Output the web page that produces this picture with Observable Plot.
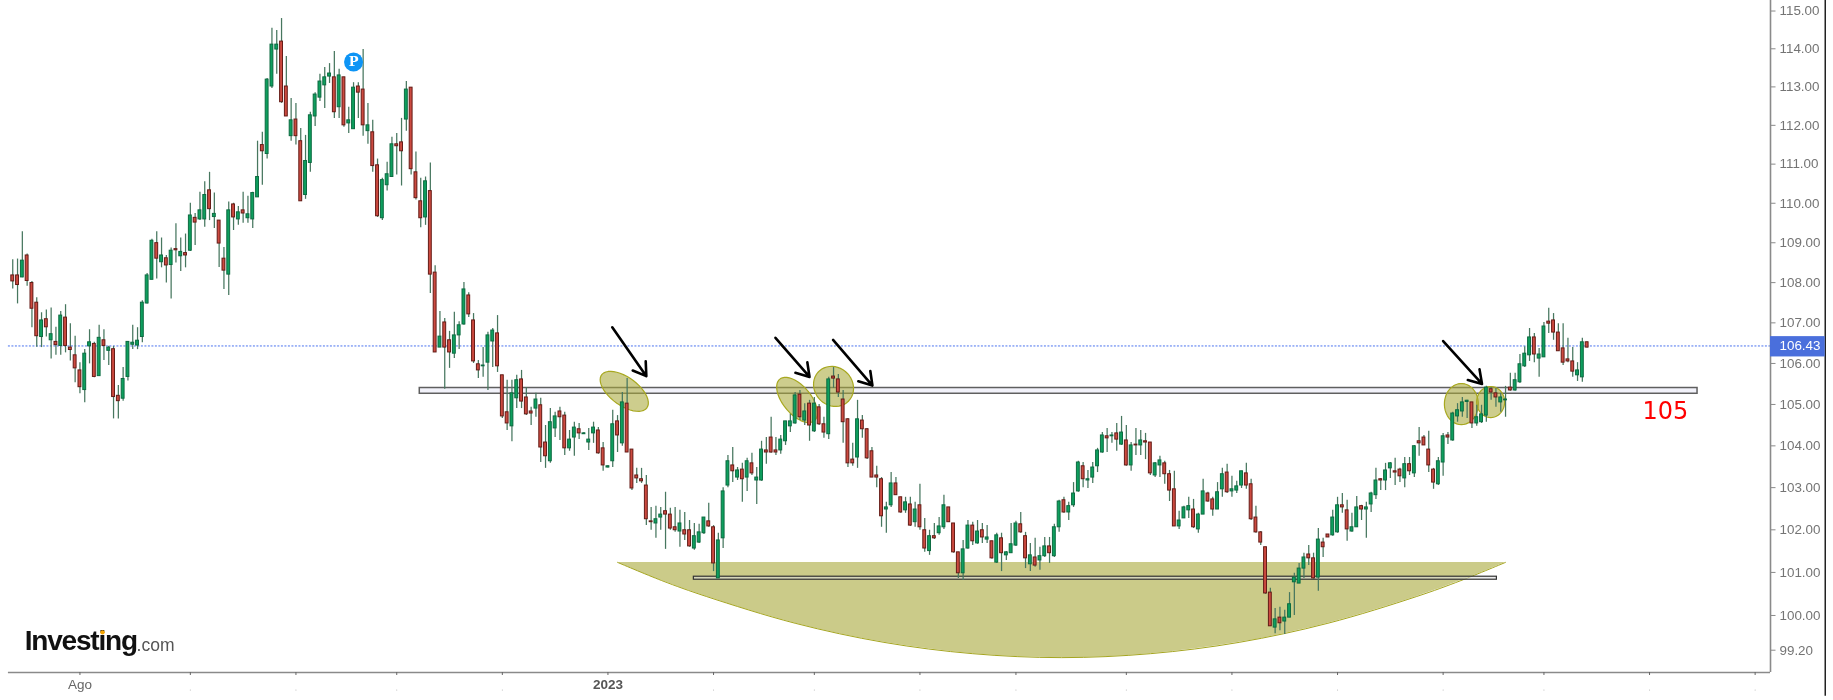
<!DOCTYPE html>
<html>
<head>
<meta charset="utf-8">
<script src="https://cdn.jsdelivr.net/npm/d3@7"></script>
<script src="https://cdn.jsdelivr.net/npm/@observablehq/plot@0.6"></script>
<style>
html,body{margin:0;padding:0;background:#fff;overflow:hidden}
.logoMain text{letter-spacing:-1.2px}
</style>
</head>
<body>
<div id="chart"></div>
<script>
const highs = [
108.57,108.59,109.28,108.72,108.03,107.62,107.25,107.32,107.37,106.89,
107.28,107.45,106.98,106.67,106.02,106.34,106.83,106.52,106.94,106.83,
106.42,106.42,105.46,105.90,106.54,106.94,106.88,107.55,108.23,109.09,
109.28,109.12,108.68,108.87,109.48,109.12,109.22,110.00,109.74,110.28,
110.55,110.79,110.26,109.56,108.88,110.03,110.00,109.92,110.28,110.18,
110.28,111.59,111.82,113.22,114.54,114.48,114.80,113.80,112.70,112.57,
111.92,111.74,112.34,112.85,113.33,113.51,113.61,113.93,113.46,113.25,
112.47,113.11,113.11,113.98,112.57,112.13,111.13,110.64,111.05,111.69,
111.79,112.18,113.14,112.98,111.31,110.64,110.67,111.03,108.42,107.28,
107.11,106.79,107.26,107.03,108.00,107.75,107.23,106.07,106.39,106.77,
106.86,107.18,105.71,105.59,105.59,105.71,105.83,105.41,104.93,105.27,
105.15,104.49,104.90,104.81,104.93,104.81,104.37,104.57,104.54,104.32,
104.42,104.57,104.44,104.08,103.52,104.86,104.73,105.29,105.63,103.91,
103.46,103.46,103.29,102.53,102.56,102.53,102.89,102.51,102.53,102.46,
102.41,102.22,102.15,102.13,102.29,102.63,102.10,101.92,103.00,103.77,
103.96,103.48,103.58,103.70,103.82,103.48,104.11,104.20,104.69,104.20,
104.25,104.59,104.76,105.29,105.34,105.02,105.10,105.17,105.00,104.69,
105.66,105.90,105.73,105.34,104.66,104.06,105.10,104.73,104.42,103.96,
103.51,103.24,102.65,103.36,103.24,102.77,102.77,102.77,102.65,103.08,
102.27,101.99,102.15,102.29,102.82,102.53,102.15,101.47,101.75,102.22,
102.18,102.22,102.15,102.10,101.73,101.92,101.92,101.49,102.15,102.20,
102.41,101.94,101.68,101.80,101.59,101.82,101.82,102.13,102.70,102.77,
102.65,103.12,103.63,103.60,103.41,103.60,103.94,104.32,104.42,104.32,
104.54,104.71,104.49,104.08,104.42,104.37,104.30,104.08,103.60,103.75,
103.63,103.41,103.39,102.44,102.56,102.77,102.72,102.39,103.20,102.89,
102.77,103.12,103.46,103.56,103.27,103.15,103.39,103.58,103.20,102.56,
101.96,101.59,100.63,100.16,100.19,100.12,100.53,100.98,101.21,101.45,
101.63,101.45,102.03,101.80,101.89,102.46,102.77,102.86,102.70,102.39,
102.79,102.58,102.65,102.89,103.46,103.22,103.58,103.60,103.70,103.46,
103.72,103.72,104.01,104.44,104.25,104.35,103.46,103.72,104.30,104.32,
104.81,105.02,105.17,105.10,105.05,104.98,104.98,105.44,105.41,105.39,
105.27,105.44,105.76,105.76,106.22,106.41,106.86,106.74,106.37,107.01,
107.36,107.23,106.98,106.98,106.62,106.39,106.02,106.62,106.53];
const bodyTops = [
108.18,108.18,108.55,108.68,107.99,107.50,107.06,107.09,106.72,106.53,
107.18,107.13,106.39,106.20,105.83,106.24,106.52,106.48,106.63,106.57,
106.39,106.35,105.21,105.62,106.53,106.51,106.56,107.50,108.18,109.05,
108.99,108.68,108.61,108.80,108.84,108.77,108.74,109.69,109.63,109.82,
110.21,110.33,109.73,109.56,108.60,109.82,109.97,109.77,109.82,109.72,
110.26,110.67,111.49,113.19,114.11,114.11,114.19,113.01,112.13,112.15,
111.59,111.08,112.26,112.80,113.14,113.25,113.35,113.25,113.30,113.25,
112.13,112.98,113.01,112.93,112.00,111.82,110.97,110.59,110.74,111.51,
111.51,111.56,112.93,112.98,110.79,110.05,110.56,110.31,108.25,106.66,
107.01,106.57,106.69,106.94,107.83,107.68,107.06,105.98,105.95,106.69,
106.81,106.74,105.71,104.81,105.27,105.59,105.61,105.17,104.83,105.12,
104.98,104.08,104.57,104.71,104.83,104.73,104.15,104.44,104.40,104.30,
104.15,104.44,104.37,103.94,103.51,104.52,104.59,105.05,105.02,103.91,
103.29,103.20,103.05,102.20,102.25,102.36,102.44,102.36,102.06,102.15,
101.99,101.99,101.85,101.94,102.29,102.20,102.06,101.75,102.91,103.63,
103.53,103.41,103.43,103.63,103.58,103.24,103.91,103.89,104.20,103.89,
104.15,104.59,104.59,105.22,105.24,104.83,105.02,105.02,104.93,104.52,
105.61,105.68,105.61,105.12,104.64,103.67,104.64,104.61,104.40,103.87,
103.29,103.20,102.53,103.10,103.10,102.77,102.65,102.60,102.48,102.58,
101.99,101.85,101.85,102.08,102.58,102.53,102.15,101.47,101.54,102.10,
102.10,101.96,101.99,101.82,101.73,101.87,101.80,101.47,101.66,102.15,
102.13,101.85,101.40,101.35,101.38,101.61,101.61,102.06,102.67,102.70,
102.56,102.86,103.60,103.51,103.20,103.48,103.89,104.25,104.23,104.25,
104.30,104.32,104.13,104.01,104.03,104.13,104.11,104.08,103.58,103.65,
103.58,103.32,102.96,102.22,102.53,102.56,102.48,102.36,102.91,102.86,
102.72,102.89,103.32,103.36,102.96,103.03,103.39,103.34,103.08,102.29,
101.94,101.59,100.53,99.91,99.95,99.95,100.26,100.88,101.09,101.35,
101.42,101.33,101.77,101.70,101.89,102.29,102.58,102.58,102.46,102.06,
102.53,102.56,102.53,102.86,103.17,103.20,103.41,103.58,103.39,103.43,
103.56,103.56,103.99,104.11,104.20,103.91,103.43,103.63,104.23,104.25,
104.78,104.86,105.05,105.09,105.05,104.69,104.76,105.41,105.37,105.27,
105.17,105.12,105.41,105.59,105.98,106.24,106.64,106.64,106.22,106.91,
107.03,107.06,106.76,106.37,106.10,106.05,105.83,106.52,106.52];
const bodyBottoms = [
108.03,107.94,108.13,108.04,107.35,106.67,106.65,106.89,106.57,106.45,
106.43,106.43,106.33,105.88,105.42,105.35,106.42,105.67,105.69,106.43,
106.31,105.18,105.08,105.14,105.67,106.46,106.44,106.65,107.48,108.07,
108.60,108.51,108.43,108.44,108.81,108.66,108.68,108.80,109.51,109.59,
109.59,109.85,109.65,108.98,108.30,108.20,109.64,109.59,109.74,109.62,
109.59,110.15,111.33,111.26,113.01,113.98,112.60,112.23,111.72,111.72,
110.05,110.21,111.03,112.23,112.72,113.04,113.27,112.34,112.47,112.00,
112.05,111.90,112.85,112.00,111.85,110.95,109.67,109.62,110.46,110.67,
111.46,111.33,112.15,110.87,110.13,109.62,109.64,108.20,106.27,106.39,
106.39,106.27,106.24,106.69,106.96,107.21,106.05,105.83,105.93,106.02,
106.54,105.93,104.71,104.54,104.47,105.15,105.07,104.76,104.78,104.90,
103.96,103.75,103.63,104.42,104.69,103.94,103.94,104.20,104.30,104.28,
104.08,104.30,103.82,103.53,103.48,103.63,104.25,104.06,103.84,102.98,
103.22,103.15,102.25,102.18,102.15,102.29,102.36,102.03,101.99,101.96,
101.89,101.61,101.56,101.70,101.92,102.08,101.21,100.86,101.80,103.05,
103.39,103.24,103.20,103.24,103.34,103.17,103.17,103.84,103.84,103.84,
103.89,104.11,104.47,104.54,104.69,104.61,104.49,104.35,104.52,104.32,
104.28,105.63,105.29,104.57,103.58,103.58,103.72,104.40,103.70,103.24,
103.24,102.32,102.48,102.58,102.82,102.41,102.46,102.10,102.18,102.06,
101.56,101.50,101.80,101.92,102.06,102.18,101.47,100.98,100.98,101.56,
101.73,101.68,101.82,101.77,101.33,101.23,101.45,101.40,101.45,101.63,
101.94,101.33,101.19,101.16,101.28,101.38,101.45,101.38,102.06,102.41,
102.41,102.58,102.91,103.20,103.17,103.24,103.51,103.84,104.18,104.23,
104.15,104.03,103.53,103.53,104.01,104.01,104.08,103.34,103.29,103.53,
103.32,102.93,102.08,102.08,102.27,102.46,102.06,102.01,102.36,102.67,
102.48,102.48,102.96,102.89,102.91,102.93,103.05,103.05,102.25,101.94,
101.70,100.51,99.75,99.72,99.82,99.86,99.95,100.77,100.74,101.09,
101.33,100.86,100.88,101.59,101.82,101.87,101.94,102.53,102.01,101.96,
102.06,102.48,102.48,102.60,102.82,103.17,103.17,103.46,103.36,103.27,
103.22,103.39,103.34,104.06,104.01,103.53,103.12,103.08,103.60,104.20,
104.13,104.71,104.83,105.06,104.54,104.54,104.57,104.73,105.29,105.17,
105.05,105.10,105.34,105.34,105.54,105.93,106.20,106.22,106.12,106.15,
106.98,106.76,106.30,106.02,106.05,105.80,105.71,105.66,106.39];
const lows = [
107.84,107.47,108.12,107.91,106.88,106.40,106.39,106.65,106.11,106.20,
106.20,106.26,106.06,105.53,105.26,105.04,105.99,105.65,105.69,106.07,
105.95,104.65,104.65,105.08,105.57,106.34,106.34,106.51,107.47,108.07,
108.09,108.37,107.99,107.59,108.49,108.28,108.37,108.78,108.93,109.56,
109.39,109.56,109.36,108.38,107.83,107.68,109.31,109.44,109.49,109.49,
109.36,110.15,110.46,111.13,112.96,113.33,112.57,112.23,111.59,111.49,
110.05,110.10,110.79,111.97,112.62,112.44,113.09,112.18,112.18,111.95,
111.79,111.90,112.18,111.72,111.51,110.79,109.64,109.56,110.31,110.67,
110.72,110.44,111.85,110.72,110.08,109.38,109.44,107.73,106.27,106.39,
105.37,105.88,106.12,106.34,106.94,107.13,106.00,105.63,105.66,105.34,
105.90,105.78,104.66,104.37,104.10,104.90,104.90,104.73,104.49,104.69,
103.60,103.46,103.58,104.20,104.13,103.77,103.87,103.75,104.15,104.28,
103.89,104.06,103.80,103.39,103.47,103.48,103.84,103.99,103.84,102.93,
103.10,103.10,102.10,101.99,101.80,101.99,101.54,101.99,101.94,101.59,
101.75,101.59,101.52,101.68,101.89,102.06,101.02,100.86,101.56,103.00,
103.12,103.17,102.65,102.91,103.29,102.60,103.15,103.56,103.82,103.77,
103.80,104.01,104.32,104.52,104.61,104.49,104.11,104.32,104.49,104.18,
104.15,105.39,105.17,104.06,103.48,103.51,103.46,104.18,103.67,103.24,
103.00,102.06,101.92,102.53,102.82,102.39,102.39,102.08,102.06,101.99,
101.47,101.40,101.77,101.87,102.01,102.18,101.45,100.86,100.81,101.54,
101.63,101.66,101.68,101.68,101.31,101.21,101.02,101.28,101.45,101.61,
101.92,101.09,101.02,101.12,101.05,101.35,101.21,101.35,101.94,102.39,
102.22,102.53,102.89,103.00,102.98,103.10,103.36,103.82,103.84,104.06,
103.87,104.01,103.51,103.39,103.77,103.77,103.67,103.29,103.24,103.24,
103.08,102.67,102.08,102.01,102.27,102.27,102.03,101.92,102.36,102.65,
102.32,102.48,102.77,102.86,102.77,102.86,102.98,102.96,102.22,101.92,
101.63,100.49,99.75,99.58,99.65,99.56,99.95,100.00,100.74,100.86,
101.16,100.84,100.56,101.35,101.82,101.85,101.92,102.39,101.73,101.94,
102.06,102.22,101.80,102.41,102.72,102.93,102.93,103.22,103.05,103.12,
103.00,103.29,103.24,103.75,104.01,103.36,102.96,103.05,103.27,104.03,
104.11,104.57,104.69,104.66,104.42,104.47,104.54,104.57,105.10,104.93,
104.81,104.69,105.32,105.32,105.51,105.90,106.05,106.02,105.66,106.15,
106.74,106.57,106.30,105.95,106.02,105.66,105.56,105.54,106.38];
const directions = (
"RRGRRRGRGR"+"GRRRRGGRGR"+"GRRGGGGGGG"+"RGRGRGRGRG"+"GRGRRGRGRG"+
"GGRGGGRRGR"+"RGGGGGGRGR"+"GGRRGRRGGG"+"RRGRRRGRRG"+"RRGGGRRRGG"+
"GRRRGGRRRG"+"RRGGRRGGRG"+"GGRRGGRGRR"+"RRRRGGRRRG"+"RRGGGRRGGG"+
"RGRGRGGRRR"+"GGGGRGRGRR"+"GRRRRRGRRR"+"RRGGRRGRGR"+"RGRGGRRRGG"+
"RGRGRGRGGG"+"RRGRGGRGGR"+"GGGRGGGGRG"+"RGRGRGRRGG"+"RRRGGGRGGR"+
"RGGRGGGRRR"+"RRRGRGGGGG"+"RRGRRGGRRG"+"GRGGGRGGRR"+"GRGRRRRGGR"+
"GGGGRGGGRR"+"GGRGGGGRGG"+"RRRRRRGGR").split("");

const yTicks = [115,114,113,112,111,110,109,108,107,106,105,104,103,102,101,100,99.2];
const monthTicks = [14,37,59,80,102,124,146,167,189,209,232,254,276,298,319,341,363];
const lastPrice = 106.43;

// price zones drawn on the chart
const resistanceBand = {i1:84.8,i2:351,p1:105.26,p2:105.40};
const supportBand = {i1:141.9,i2:309.2,p1:100.83,p2:100.90};
const bowlIndex = [126,135.2,144.5,163,181.5,200,218.5,237,255.5,274,292.5,301.7,311];
const bowlPrice = [101.235,100.81,100.44,99.82,99.38,99.12,99.03,99.12,99.38,99.82,100.44,100.81,101.235];
const bowlTop = 101.235;

// highlight ellipses
const ellipseIndex = [127.4,163.4,171,301.8,307.9];
const ellipsePrice = [105.32,105.11,105.44,105.01,105.06];
const ellipseMajor = [28,27,21,20.5,15.5];
const ellipseMinor = [14,14,19,17,14];
const ellipseTilt = [36,50,45,90,90];

// arrows
const arrowFromIndex = [124.9,158.9,170.9,298.0];
const arrowFromPrice = [106.89,106.63,106.58,106.55];
const arrowToIndex = [132.0,166.0,179.1,306.1];
const arrowToPrice = [105.69,105.67,105.46,105.50];

const n = highs.length;
const candles = d3.range(n).map(i => ({
  i, high: highs[i], low: lows[i], top: bodyTops[i], bottom: bodyBottoms[i], dir: directions[i]
}));
const greens = candles.filter(d => d.dir === "G");
const reds = candles.filter(d => d.dir === "R");

const bowl = bowlIndex.map((i, k) => ({i, p: bowlPrice[k]}));
const arrows = arrowFromIndex.map((_, k) => ({x1: arrowFromIndex[k], y1: arrowFromPrice[k], x2: arrowToIndex[k], y2: arrowToPrice[k]}));
const ellipses = ellipseIndex.flatMap((cx, k) => d3.range(0, 361, 8).map(a => {
  const t = a * Math.PI / 180, th = ellipseTilt[k] * Math.PI / 180;
  const u = ellipseMajor[k] * Math.cos(t), v = ellipseMinor[k] * Math.sin(t);
  return {k, i: cx + (u * Math.cos(th) - v * Math.sin(th)) / 4.8, p: ellipsePrice[k] - (u * Math.sin(th) + v * Math.cos(th)) / 41};
}));

const xEnd = 366.2, xStart = -0.9, xBorder = 377.6, bottomPrice = 98.69, topPrice = 115.28, belowPrice = 98.15;
const halfWidth = 0.3;
const wick = "#47775f";

const chart = Plot.plot({
  width: 1833, height: 700,
  marginLeft: 0, marginRight: 63, marginTop: 0, marginBottom: 28,
  x: {type: "linear", domain: [-1.3, xEnd], range: [6, 1770], axis: null},
  y: {type: "log", domain: [bottomPrice, topPrice], range: [672, 0], axis: null},
  style: {fontFamily: "'Liberation Sans', Arial, sans-serif", background: "#fff", overflow: "visible", filter: "blur(0.3px)"},
  marks: [
    // bowl
    Plot.areaY(bowl, {x: "i", y1: bowlTop, y2: "p", fill: "#cbcb89", curve: "catmull-rom"}),
    Plot.lineY(bowl, {x: "i", y: "p", stroke: "#a5a520", strokeWidth: 1, curve: "catmull-rom"}),
    // horizontal zones
    Plot.rect([resistanceBand], {x1: "i1", x2: "i2", y1: "p1", y2: "p2", fill: "#f2f2fa", stroke: "#5f5f5f", strokeWidth: 1.5}),
    Plot.rect([supportBand], {x1: "i1", x2: "i2", y1: "p1", y2: "p2", fill: "#dfe0e2", fillOpacity: 0.55, stroke: "#333", strokeWidth: 1.2}),
    // last price line
    Plot.ruleY([lastPrice], {x1: xStart, x2: xEnd, stroke: "#4a72ee", strokeWidth: 1, strokeDasharray: "2,1.5"}),
    // highlight ellipses
    Plot.line(ellipses, {x: "i", y: "p", z: "k", fill: "rgb(168,168,58)", fillOpacity: 0.58, stroke: "#a8a820", strokeWidth: 1.2, curve: "linear"}),
    // candles
    Plot.ruleX(candles, {x: "i", y1: "low", y2: "high", stroke: wick, strokeWidth: 1.25}),
    Plot.rect(greens, {x1: d => d.i - halfWidth, x2: d => d.i + halfWidth, y1: "bottom", y2: "top", fill: "#0e9f5e", stroke: "#0c6b41", strokeWidth: 1}),
    Plot.rect(reds, {x1: d => d.i - halfWidth, x2: d => d.i + halfWidth, y1: "bottom", y2: "top", fill: "#cc4a40", stroke: "#641b16", strokeWidth: 1}),
    // arrows
    Plot.arrow(arrows, {x1: "x1", y1: "y1", x2: "x2", y2: "y2", stroke: "#000", strokeWidth: 2.6, headLength: 8.5, headAngle: 65}),
    // pivot badge
    Plot.dot(["P"], {x: 71, y: 113.65, r: 9.5, fill: "#0d94f5"}),
    Plot.text(["P"], {x: 71, y: 113.65, text: d => d, fill: "#fff", fontSize: 13, fontWeight: "bold", fontFamily: "'DejaVu Serif', serif"}),
    // annotation
    Plot.text(["105"], {x: 344.3, y: 104.84, text: d => d, fill: "#ff0000", fontSize: 24, fontFamily: "'DejaVu Sans', sans-serif"}),
    // axes
    Plot.ruleX([xEnd], {y1: bottomPrice, y2: topPrice, stroke: "#8a8a8a", strokeWidth: 1.6}),
    Plot.ruleX([xBorder], {y1: belowPrice, y2: topPrice, stroke: "#000", strokeWidth: 1.3}),
    Plot.ruleY([bottomPrice], {x1: xStart, x2: xEnd, stroke: "#8a8a8a", strokeWidth: 1.6}),
    Plot.axisY(yTicks, {anchor: "right", tickFormat: d => d.toFixed(2), tickSize: 4.5, tickPadding: 4.5, fontSize: 13.4, stroke: "#8a8a8a", fill: "#747474"}),
    Plot.axisX(monthTicks, {anchor: "bottom", tickFormat: () => "", tickSize: 3, stroke: "#666"}),
    Plot.dot(monthTicks.filter(t => t !== 14 && t !== 124), {x: d => d, y: 98.29, r: 0.5, fill: "#aaa"}),
    Plot.text(["Ago"], {x: 14, y: 98.41, text: d => d, fill: "#666", fontSize: 13.5}),
    Plot.text(["2023"], {x: 124, y: 98.41, text: d => d, fill: "#555", fontWeight: "bold", fontSize: 13.5}),
    // last price flag
    Plot.rect([lastPrice], {x1: xEnd, x2: xBorder, y1: 106.16, y2: 106.66, fill: "#4a6fdc"}),
    Plot.text([lastPrice], {x: xEnd, y: lastPrice, dx: 9, text: d => d.toFixed(2), textAnchor: "start", fill: "#fff", fontSize: 13.4}),
    // logo
    Plot.text(["Investing"], {x: 2.5, y: 99.40, text: d => d, textAnchor: "start", fontSize: 28, fontWeight: "bold", fill: "#111", className: "logoMain"}),
    Plot.text([".com"], {x: 25.8, y: 99.32, text: d => d, textAnchor: "start", fontSize: 17.5, fill: "#555"}),
    Plot.dot(["flame"], {x: 18.7, y: 99.61, r: 2.2, fill: "#f7a600"})
  ]
});
document.getElementById("chart").appendChild(chart);
</script>
</body>
</html>
